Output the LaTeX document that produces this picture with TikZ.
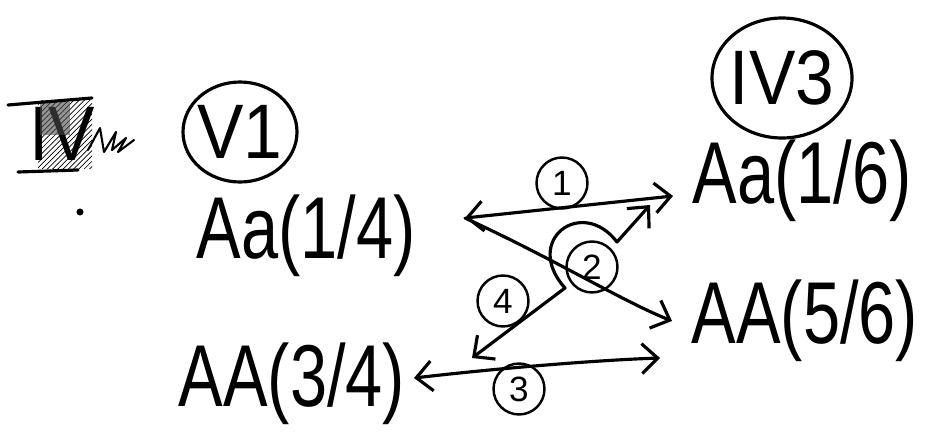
\documentclass[tikz,border=0pt]{standalone}
\usepackage{fontspec}
\setmainfont{Liberation Sans}
\usetikzlibrary{arrows.meta,patterns}
\tikzset{
  ink/.style={line width=1.8pt, line cap=round, line join=round},
  conn/.style={ink, {Straight Barb[length=9pt,width=17pt]}-{Straight Barb[length=9pt,width=17pt]}},
  connR/.style={ink, -{Straight Barb[length=9pt,width=17pt]}},
  geno/.style={inner sep=0pt, font=\fontsize{50}{52}\selectfont},
  num/.style={ink, line width=1.4pt, circle, draw, inner sep=1pt, minimum size=29pt, font=\fontsize{20}{21}\selectfont},
  big/.style={inner sep=0pt, font=\fontsize{44}{46}\selectfont}
}
\begin{document}
\begin{tikzpicture}[x=0.02cm,y=-0.02cm]
\useasboundingbox (0,0) rectangle (936,443);
% crossed-out label top left
\node[big] (old) at (62,134) {\scalebox{0.9}[1]{IV}};
\fill[pattern=north east lines, pattern color=black] (38,100) rectangle (92,168);
\fill[black!70, opacity=0.6] (40,102) rectangle (70,135);
\draw[ink] (8,105) -- (92,98);
\draw[ink] (18,172) -- (78,170);
\draw[ink, line width=1.2pt] (88,150) -- (100,128) -- (104,152) -- (116,132) -- (112,150) -- (126,138) -- (118,152) -- (134,140);
\fill (80,212) circle (2pt);
% group labels
\node[big] (v1) at (240,132) {\scalebox{0.9}[1]{V1}};
\draw[ink] (v1.center) ellipse (57 and 50);
\node[big] (iv3) at (782,78) {\scalebox{0.9}[1]{IV3}};
\draw[ink] (iv3.center) ellipse (70 and 60);
% genotypes
\node[geno] (l1) at (306,236) {\scalebox{0.76}[1]{Aa(1/4)}};
\node[geno] (l2) at (292,384) {\scalebox{0.76}[1]{AA(3/4)}};
\node[geno] (r1) at (802,181) {\scalebox{0.76}[1]{Aa(1/6)}};
\node[geno] (r2) at (805,321) {\scalebox{0.76}[1]{AA(5/6)}};
% connector end points
\coordinate (a1) at (465,218);
\coordinate (b1) at (673,196);
\coordinate (b2) at (672,321);
\coordinate (a4) at (472,358);
\coordinate (h1) at (565,288);
\coordinate (h2) at (617,242);
\coordinate (b4) at (650,205);
\coordinate (a3) at (414,378);
\coordinate (b3) at (660,358);
% connectors
\draw[conn] (a1) -- (b1);
\draw[connR] (a1) .. controls (560,262) and (620,300) .. (b2);
\draw[conn] (a4) -- (h1) .. controls (522,240) and (582,196) .. (h2) -- (b4);
\draw[conn] (a3) .. controls (500,368) and (600,360) .. (b3);
% circled numbers
\node[num] (n1) at (562,183) {1};
\node[num] (n2) at (592,267) {2};
\node[num] (n4) at (503,301) {4};
\node[num] (n3) at (519,389) {3};
\end{tikzpicture}
\end{document}
